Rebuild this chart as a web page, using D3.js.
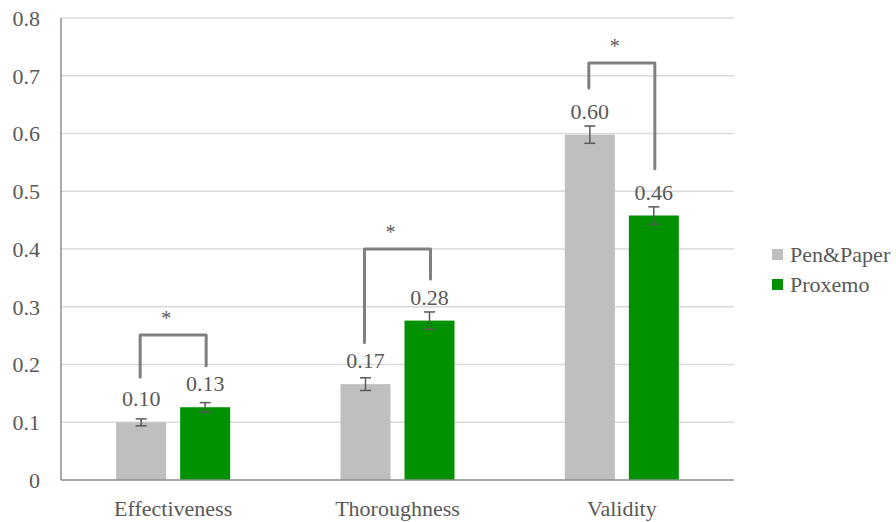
<!DOCTYPE html>
<html>
<head>
<meta charset="utf-8">
<script src="https://cdn.jsdelivr.net/npm/d3@7"></script>
<style>
  html, body { margin: 0; padding: 0; background: #fff; }
  svg { display: block; }
  text { font-family: "Liberation Serif", "DejaVu Serif", serif; fill: #595959; }
</style>
</head>
<body>
<svg id="chart" width="896" height="522"></svg>
<script>
// Measures per condition
const categories = ["Effectiveness", "Thoroughness", "Validity"];
const series = ["Pen&Paper", "Proxemo"];
const penPaper = [0.0998, 0.166, 0.598];
const proxemo = [0.126, 0.276, 0.458];
const penPaperErr = [0.006, 0.011, 0.015];
const proxemoErr = [0.008, 0.015, 0.015];
const yTicks = [0, 0.1, 0.2, 0.3, 0.4, 0.5, 0.6, 0.7, 0.8];
const colors = ["#bfbfbf", "#009100"];

// Significance brackets: top of bracket, left leg end, right leg end (in value units)
const bracketTop = [0.251, 0.400, 0.722];
const bracketLeftEnd = [0.178, 0.238, 0.679];
const bracketRightEnd = [0.198, 0.348, 0.539];
const sigMarks = ["*", "*", "*"];

const svg = d3.select("#chart");
const plotLeft = 61, plotRight = 734, plotTop = 18, plotBottom = 480;
const fontSize = 22;

const y = d3.scaleLinear().domain([0, 0.8]).range([plotBottom, plotTop]);
const x0 = d3.scaleBand().domain(categories).range([plotLeft, plotRight]).padding(0);
const barW = 50, gap = 14;
const x1 = d3.scaleBand().domain(series)
  .range([(x0.bandwidth() - (2 * barW + gap)) / 2, (x0.bandwidth() + (2 * barW + gap)) / 2])
  .paddingInner(gap / (barW + gap)).paddingOuter(0);

// gridlines
svg.append("g").selectAll("line").data(yTicks.filter(d => d > 0)).join("line")
  .attr("x1", plotLeft).attr("x2", plotRight)
  .attr("y1", d => y(d)).attr("y2", d => y(d))
  .attr("stroke", "#d9d9d9").attr("stroke-width", 1.5);

// y axis labels
const yAxis = d3.axisLeft(y).tickValues(yTicks).tickSize(0).tickPadding(21)
  .tickFormat(d => d === 0 ? "0" : d3.format(".1f")(d));
const gy = svg.append("g").attr("transform", `translate(${plotLeft},0)`).call(yAxis)
  .attr("font-family", null).attr("font-size", null);
gy.select(".domain").remove();
gy.selectAll("text").style("font-family", '"Liberation Serif", serif')
  .attr("font-size", fontSize).attr("fill", "#595959").attr("dy", "0.33em");

const rows = categories.map((c, i) => ({
  cat: c,
  vals: [
    { s: series[0], v: penPaper[i], e: penPaperErr[i], color: colors[0] },
    { s: series[1], v: proxemo[i], e: proxemoErr[i], color: colors[1] }
  ]
}));

const groups = svg.append("g").selectAll("g").data(rows).join("g")
  .attr("transform", d => `translate(${x0(d.cat)},0)`);

groups.selectAll("rect").data(d => d.vals).join("rect")
  .attr("x", d => x1(d.s)).attr("width", x1.bandwidth())
  .attr("y", d => y(d.v)).attr("height", d => y(0) - y(d.v))
  .attr("fill", d => d.color);

// error bars
const eb = groups.selectAll("g.err").data(d => d.vals).join("g").attr("class", "err")
  .attr("stroke", "#595959").attr("stroke-width", 1.5);
eb.append("line")
  .attr("x1", d => x1(d.s) + x1.bandwidth() / 2).attr("x2", d => x1(d.s) + x1.bandwidth() / 2)
  .attr("y1", d => y(d.v + d.e)).attr("y2", d => y(d.v - d.e));
eb.append("line")
  .attr("x1", d => x1(d.s) + x1.bandwidth() / 2 - 5.5).attr("x2", d => x1(d.s) + x1.bandwidth() / 2 + 5.5)
  .attr("y1", d => y(d.v + d.e)).attr("y2", d => y(d.v + d.e));
eb.append("line")
  .attr("x1", d => x1(d.s) + x1.bandwidth() / 2 - 5.5).attr("x2", d => x1(d.s) + x1.bandwidth() / 2 + 5.5)
  .attr("y1", d => y(d.v - d.e)).attr("y2", d => y(d.v - d.e));

// value labels
groups.selectAll("text.val").data(d => d.vals).join("text").attr("class", "val")
  .attr("x", d => x1(d.s) + x1.bandwidth() / 2)
  .attr("y", d => y(d.v) - 16)
  .attr("text-anchor", "middle").attr("font-size", fontSize)
  .text(d => d.v.toFixed(2));

// axis lines
svg.append("line").attr("x1", plotLeft).attr("x2", plotRight).attr("y1", plotBottom).attr("y2", plotBottom)
  .attr("stroke", "#8c8c8c").attr("stroke-width", 1.5);
svg.append("line").attr("x1", plotLeft).attr("x2", plotLeft).attr("y1", plotTop).attr("y2", plotBottom)
  .attr("stroke", "#8c8c8c").attr("stroke-width", 1.5);

// category labels
svg.append("g").selectAll("text").data(categories).join("text")
  .attr("x", d => x0(d) + x0.bandwidth() / 2).attr("y", 516)
  .attr("text-anchor", "middle").attr("font-size", fontSize)
  .text(d => d);

// significance brackets
const br = svg.append("g").selectAll("g").data(categories).join("g")
  .attr("transform", d => `translate(${x0(d)},0)`);
br.append("path")
  .attr("d", (d, i) => {
    const xl = x1(series[0]) + x1.bandwidth() / 2 - 1;
    const xr = x1(series[1]) + x1.bandwidth() / 2 + 1;
    return `M${xl},${y(bracketLeftEnd[i])}V${y(bracketTop[i])}H${xr}V${y(bracketRightEnd[i])}`;
  })
  .attr("fill", "none").attr("stroke", "#808080").attr("stroke-width", 3)
  .attr("stroke-linejoin", "round").attr("stroke-linecap", "round");
br.append("text")
  .attr("x", x0.bandwidth() / 2 - 7)
  .attr("y", (d, i) => y(bracketTop[i]) - 10)
  .attr("text-anchor", "middle").attr("font-size", 20)
  .text((d, i) => sigMarks[i]);

// legend
const lg = svg.append("g").selectAll("g").data(series).join("g")
  .attr("transform", (d, i) => `translate(772,${249 + i * 30})`);
lg.append("rect").attr("width", 11).attr("height", 11).attr("fill", (d, i) => colors[i]);
lg.append("text").attr("x", 18).attr("y", 5.5).attr("dy", "0.35em")
  .attr("font-size", fontSize).text(d => d);
</script>
</body>
</html>
